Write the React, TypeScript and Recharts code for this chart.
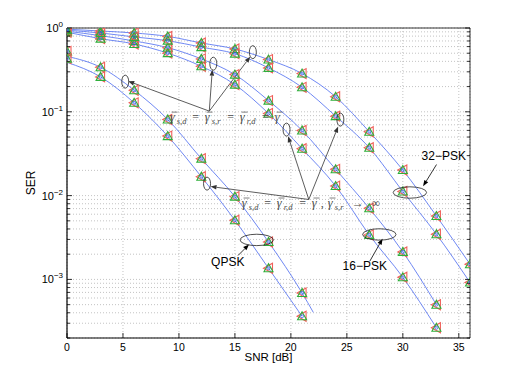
import React from 'react';
import {
  ComposedChart,
  Line,
  Scatter,
  XAxis,
  YAxis,
  CartesianGrid,
  ReferenceDot,
  ReferenceLine,
} from 'recharts';

// SNR grid of the simulated points
const snrQpsk = [0, 3, 6, 9, 12, 15, 18, 21];
const snrPsk16 = [0, 3, 6, 9, 12, 15, 18, 21, 24, 27, 30, 33];
const snrPsk32 = [0, 3, 6, 9, 12, 15, 18, 21, 24, 27, 30, 33, 36];

// simulated SER (markers)
const qpskEqual = [0.526, 0.34, 0.181, 0.081, 0.0276, 0.00973, 0.0028, 0.00069];
const qpskInf = [0.431, 0.261, 0.128, 0.0513, 0.0168, 0.00508, 0.00136, 0.000363];
const psk16Equal = [0.916, 0.81, 0.7, 0.583, 0.428, 0.278, 0.136, 0.0599, 0.0206, 0.00706, 0.00213, 0.000499];
const psk16Inf = [0.891, 0.746, 0.645, 0.501, 0.349, 0.211, 0.0955, 0.0363, 0.013, 0.0034, 0.00106, 0.000265];
const psk32Equal = [0.968, 0.921, 0.872, 0.794, 0.663, 0.562, 0.42, 0.286, 0.151, 0.0578, 0.0202, 0.00571, 0.00152];
const psk32Inf = [0.942, 0.872, 0.782, 0.706, 0.591, 0.494, 0.334, 0.196, 0.0887, 0.0373, 0.0112, 0.00346, 0.00092];

// analytical QPSK curves (different start / end than the markers)
const snrQpskEqualLine = [0, 3, 6, 9, 12, 15, 18, 21, 22];
const qpskEqualLine = [0.459, 0.34, 0.181, 0.081, 0.0276, 0.00973, 0.0028, 0.00069, 0.000405];
const snrQpskInfLine = [0, 3, 6, 9, 12, 15, 18, 21];
const qpskInfLine = [0.389, 0.261, 0.128, 0.0513, 0.0168, 0.00508, 0.00136, 0.000363];

// axes
const xTicks = [0, 5, 10, 15, 20, 25, 30, 35];
const yDecades = [1e-4, 1e-3, 1e-2, 1e-1];
const yMin = 2e-4;

const yTicks: number[] = [];
yDecades.forEach((base) => {
  for (let k = 1; k < 10; k++) {
    const v = parseFloat((k * base).toPrecision(3));
    if (v >= yMin) yTicks.push(v);
  }
});
yTicks.push(1);

// annotations, in (SNR, SER)
const smallEllipses = [
  { x: 5.2, y: 0.229 },
  { x: 13.07, y: 0.375 },
  { x: 16.6, y: 0.515 },
  { x: 12.51, y: 0.0139 },
  { x: 19.61, y: 0.0613 },
  { x: 24.42, y: 0.0807 },
];
const groupArrows = [
  { from: { x: 12.71, y: 0.1019 }, to: { x: 5.47, y: 0.232 } },
  { from: { x: 12.71, y: 0.1019 }, to: { x: 12.98, y: 0.318 } },
  { from: { x: 12.71, y: 0.1019 }, to: { x: 16.37, y: 0.455 } },
  { from: { x: 21.6, y: 0.00899 }, to: { x: 12.82, y: 0.01284 } },
  { from: { x: 21.6, y: 0.00899 }, to: { x: 19.75, y: 0.051 } },
  { from: { x: 21.6, y: 0.00899 }, to: { x: 24.22, y: 0.0666 } },
];
const modLabels = [
  { text: 'QPSK', x: 14.36, y: 0.0016, ex: 16.95, ey: 0.00296, from: { x: 15.28, y: 0.00193 }, to: { x: 16.26, y: 0.00261 } },
  { text: '16\u2212PSK', x: 26.6, y: 0.00144, ex: 27.9, ey: 0.00344, from: { x: 27.05, y: 0.00165 }, to: { x: 28.19, y: 0.00306 } },
  { text: '32\u2212PSK', x: 33.66, y: 0.0301, ex: 30.63, ey: 0.01089, from: { x: 33.01, y: 0.0235 }, to: { x: 31.81, y: 0.01294 } },
];

// formula tokens: g = barred gamma, s = subscript, o = operator (dx in px from the text start)
type Tok = { k: 'g' | 's' | 'o'; s?: string; dx: number };
const gammaEqual: Tok[] = [
  { k: 'g', dx: 0 }, { k: 's', s: 's,d', dx: 7 }, { k: 'o', s: '=', dx: 26 },
  { k: 'g', dx: 35 }, { k: 's', s: 's,r', dx: 42 }, { k: 'o', s: '=', dx: 61 },
  { k: 'g', dx: 70 }, { k: 's', s: 'r,d', dx: 77 }, { k: 'o', s: '=', dx: 96 },
  { k: 'g', dx: 105 },
];
const gammaInf: Tok[] = [
  { k: 'g', dx: 0 }, { k: 's', s: 's,d', dx: 7 }, { k: 'o', s: '=', dx: 26 },
  { k: 'g', dx: 35 }, { k: 's', s: 'r,d', dx: 42 }, { k: 'o', s: '=', dx: 61 },
  { k: 'g', dx: 70 }, { k: 'o', s: ',', dx: 79 },
  { k: 'g', dx: 86 }, { k: 's', s: 's,r', dx: 93 }, { k: 'o', s: '\u2192', dx: 116 },
  { k: 'o', s: '\u221e', dx: 134 },
];

const pts = (xs: number[], ys: number[]) => xs.map((x, i) => ({ x, y: ys[i] }));

const lineColor = '#5f7bf2';

const Marker = (p: any) => {
  const { cx, cy } = p;
  if (cx == null || cy == null) return null;
  return (
    <g>
      <polygon
        points={`${cx - 5},${cy} ${cx + 4},${cy - 5} ${cx + 4},${cy + 5}`}
        fill="none"
        stroke="#f0605a"
        strokeWidth={1.1}
      />
      <polygon
        points={`${cx},${cy - 4.5} ${cx - 4.5},${cy + 3.5} ${cx + 4.5},${cy + 3.5}`}
        fill="none"
        stroke="#2fae3a"
        strokeWidth={1.1}
      />
      <circle cx={cx} cy={cy} r={1.5} fill="none" stroke="#3a5fe0" strokeWidth={0.8} />
    </g>
  );
};

const isDecade = (v: number) => {
  const l = Math.log10(v);
  return Math.abs(l - Math.round(l)) < 1e-6;
};

const LeftTick = (p: any) => {
  const { x, y, payload } = p;
  const v = payload.value;
  const major = isDecade(v);
  const e = Math.round(Math.log10(v));
  return (
    <g>
      <line x1={x} x2={x + (major ? 5 : 3)} y1={y} y2={y} stroke="#000" strokeWidth={0.8} />
      {major && (
        <text x={x - 4} y={y + 4} textAnchor="end" fontSize={11} fill="#000">
          10
          <tspan dy={-5} fontSize={8}>
            {e === 0 ? '0' : '\u2212' + -e}
          </tspan>
        </text>
      )}
    </g>
  );
};

const RightTick = (p: any) => {
  const { x, y, payload } = p;
  const major = isDecade(payload.value);
  return <line x1={x} x2={x - (major ? 5 : 3)} y1={y} y2={y} stroke="#000" strokeWidth={0.8} />;
};

const BottomTick = (p: any) => {
  const { x, y, payload } = p;
  return (
    <g>
      <line x1={x} x2={x} y1={y} y2={y - 5} stroke="#000" strokeWidth={0.8} />
      <text x={x} y={y + 12.5} textAnchor="middle" fontSize={10.5} fill="#000">
        {payload.value}
      </text>
    </g>
  );
};

const TopTick = (p: any) => {
  const { x, y } = p;
  return <line x1={x} x2={x} y1={y} y2={y + 5} stroke="#000" strokeWidth={0.8} />;
};

const arrowShape = (color: string, width: number) => (p: any) => {
  const { x1, y1, x2, y2 } = p;
  const a = Math.atan2(y2 - y1, x2 - x1);
  const L = 6;
  const W = 2.3;
  const bx = x2 - L * Math.cos(a);
  const by = y2 - L * Math.sin(a);
  const px = -Math.sin(a) * W;
  const py = Math.cos(a) * W;
  return (
    <g>
      <line x1={x1} y1={y1} x2={bx} y2={by} stroke={color} strokeWidth={width} />
      <polygon points={`${x2},${y2} ${bx + px},${by + py} ${bx - px},${by - py}`} fill={color} />
    </g>
  );
};

const ellipseShape = (rx: number, ry: number) => (p: any) => (
  <ellipse cx={p.cx} cy={p.cy} rx={rx} ry={ry} fill="none" stroke="#222" strokeWidth={0.8} />
);

const formulaColor = '#4a4a4a';

const gammaShape = (toks: Tok[]) => (p: any) => (
  <g fontFamily="'Liberation Serif', 'DejaVu Serif', serif" fill={formulaColor}>
    {toks.map((t, i) => {
      const x = p.cx + t.dx;
      if (t.k === 'g') {
        return (
          <g key={i}>
            <text x={x} y={p.cy} fontSize={12.5} fontStyle="italic">
              {'\u03b3'}
            </text>
            <line x1={x + 1.8} x2={x + 7.8} y1={p.cy - 8.5} y2={p.cy - 8.5} stroke={formulaColor} strokeWidth={0.7} />
          </g>
        );
      }
      if (t.k === 's') {
        return (
          <text key={i} x={x} y={p.cy + 3} fontSize={8.5} fontStyle="italic">
            {t.s}
          </text>
        );
      }
      return (
        <text key={i} x={x} y={p.cy} fontSize={12} textAnchor={t.s === ',' ? 'start' : 'middle'}>
          {t.s}
        </text>
      );
    })}
  </g>
);

const labelShape = (text: string) => (p: any) => (
  <text x={p.cx} y={p.cy + 4} textAnchor="middle" fontSize={12} fill="#000">
    {text}
  </text>
);

export default function App() {
  return (
    <div style={{ position: 'absolute', left: 0, top: 0, fontFamily: "'Liberation Sans', Arial, sans-serif" }}>
      <ComposedChart width={519} height={381} margin={{ top: 27, right: 48, bottom: 13, left: 7 }}>
        <CartesianGrid stroke="#b4b4b4" strokeDasharray="1 2" strokeWidth={0.8} />
        <XAxis
          dataKey="x"
          type="number"
          domain={[0, 36]}
          ticks={xTicks}
          interval={0}
          allowDataOverflow
          height={30}
          tickSize={0}
          tickMargin={0}
          tickLine={false}
          axisLine={{ stroke: '#000', strokeWidth: 1.2 }}
          tick={(p: any) => <BottomTick {...p} />}
          label={{
            content: (lp: any) => (
              <text
                x={lp.viewBox.x + lp.viewBox.width / 2}
                y={lp.viewBox.y + 23}
                textAnchor="middle"
                fontSize={11.5}
                fill="#000"
              >
                SNR [dB]
              </text>
            ),
          }}
        />
        <XAxis
          xAxisId="top"
          orientation="top"
          type="number"
          domain={[0, 36]}
          ticks={xTicks}
          interval={0}
          allowDataOverflow
          height={1}
          tickSize={0}
          tickMargin={0}
          tickLine={false}
          axisLine={{ stroke: '#000', strokeWidth: 0.8 }}
          tick={(p: any) => <TopTick {...p} />}
        />
        <YAxis
          dataKey="y"
          type="number"
          scale="log"
          domain={[yMin, 1]}
          ticks={yTicks}
          interval={0}
          allowDataOverflow
          width={60}
          tickSize={0}
          tickMargin={0}
          tickLine={false}
          axisLine={{ stroke: '#000', strokeWidth: 1.2 }}
          tick={(p: any) => <LeftTick {...p} />}
          label={{
            content: (lp: any) => {
              const cx = lp.viewBox.x + lp.viewBox.width - 36;
              const cy = lp.viewBox.y + lp.viewBox.height / 2;
              return (
                <text
                  x={cx}
                  y={cy}
                  textAnchor="middle"
                  dominantBaseline="central"
                  fontSize={12}
                  fill="#000"
                  transform={`rotate(-90 ${cx} ${cy})`}
                >
                  SER
                </text>
              );
            },
          }}
        />
        <YAxis
          yAxisId="right"
          orientation="right"
          type="number"
          scale="log"
          domain={[yMin, 1]}
          ticks={yTicks}
          interval={0}
          allowDataOverflow
          width={1}
          tickSize={0}
          tickMargin={0}
          tickLine={false}
          axisLine={{ stroke: '#000', strokeWidth: 0.8 }}
          tick={(p: any) => <RightTick {...p} />}
        />

        <Line data={pts(snrQpskEqualLine, qpskEqualLine)} dataKey="y" type="monotone" stroke={lineColor} strokeWidth={0.9} dot={false} isAnimationActive={false} />
        <Line data={pts(snrQpskInfLine, qpskInfLine)} dataKey="y" type="monotone" stroke={lineColor} strokeWidth={0.9} dot={false} isAnimationActive={false} />
        <Line data={pts(snrPsk16, psk16Equal)} dataKey="y" type="monotone" stroke={lineColor} strokeWidth={0.9} dot={false} isAnimationActive={false} />
        <Line data={pts(snrPsk16, psk16Inf)} dataKey="y" type="monotone" stroke={lineColor} strokeWidth={0.9} dot={false} isAnimationActive={false} />
        <Line data={pts(snrPsk32, psk32Equal)} dataKey="y" type="monotone" stroke={lineColor} strokeWidth={0.9} dot={false} isAnimationActive={false} />
        <Line data={pts(snrPsk32, psk32Inf)} dataKey="y" type="monotone" stroke={lineColor} strokeWidth={0.9} dot={false} isAnimationActive={false} />

        <Scatter data={pts(snrQpsk, qpskEqual)} shape={Marker} isAnimationActive={false} />
        <Scatter data={pts(snrQpsk, qpskInf)} shape={Marker} isAnimationActive={false} />
        <Scatter data={pts(snrPsk16, psk16Equal)} shape={Marker} isAnimationActive={false} />
        <Scatter data={pts(snrPsk16, psk16Inf)} shape={Marker} isAnimationActive={false} />
        <Scatter data={pts(snrPsk32, psk32Equal)} shape={Marker} isAnimationActive={false} />
        <Scatter data={pts(snrPsk32, psk32Inf)} shape={Marker} isAnimationActive={false} />

        {smallEllipses.map((e, i) => (
          <ReferenceDot key={'e' + i} x={e.x} y={e.y} shape={ellipseShape(3.5, 6.5)} />
        ))}
        {groupArrows.map((a, i) => (
          <ReferenceLine key={'a' + i} segment={[a.from, a.to]} shape={arrowShape('#333', 0.8)} />
        ))}
        <ReferenceDot x={9.18} y={0.0785} shape={gammaShape(gammaEqual)} />
        <ReferenceDot x={15.61} y={0.00741} shape={gammaShape(gammaInf)} />
        {modLabels.map((m, i) => (
          <React.Fragment key={'m' + i}>
            <ReferenceDot x={m.ex} y={m.ey} shape={ellipseShape(16.7, 5.7)} />
            <ReferenceLine segment={[m.from, m.to]} shape={arrowShape('#000', 0.8)} />
            <ReferenceDot x={m.x} y={m.y} shape={labelShape(m.text)} />
          </React.Fragment>
        ))}
      </ComposedChart>
    </div>
  );
}
